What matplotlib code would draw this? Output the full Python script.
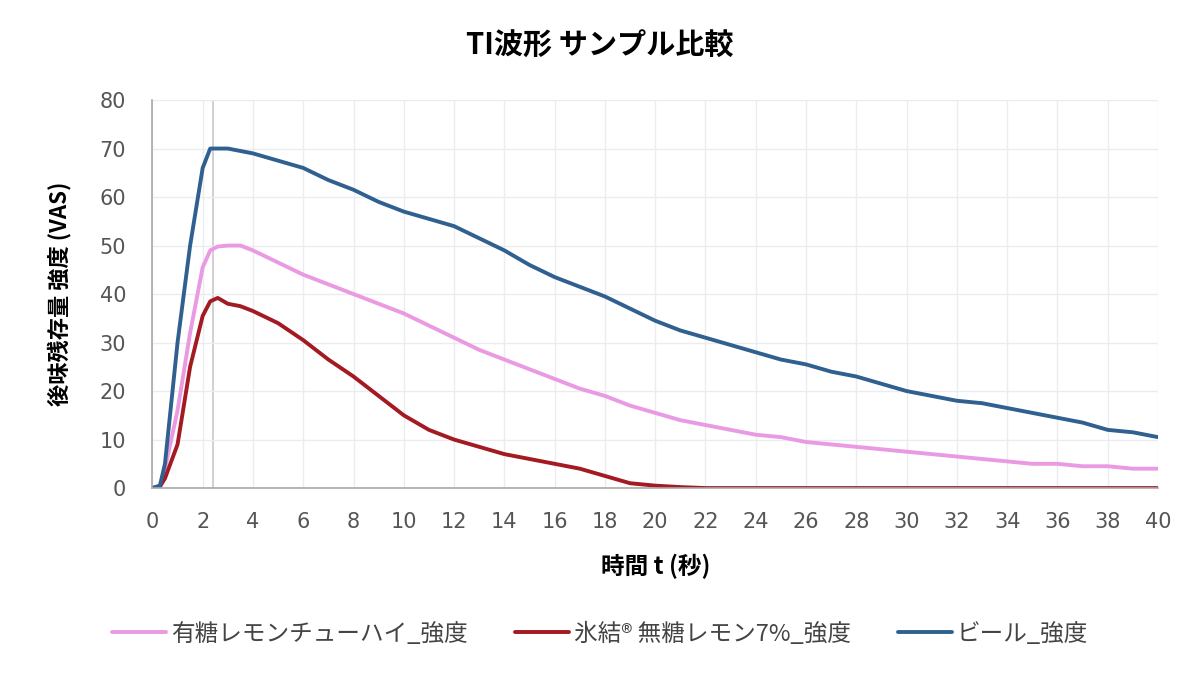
import matplotlib.pyplot as plt
import numpy as np

plt.rcParams['font.family'] = ['Noto Sans CJK JP', 'DejaVu Sans']

# time axis (s)
t = [0, 0.3, 0.5, 1, 1.5, 2, 2.3, 2.6, 3, 3.5, 4, 5, 6, 7, 8, 9, 10, 11, 12, 13, 14, 15,
     16, 17, 18, 19, 20, 21, 22, 23, 24, 25, 26, 27, 28, 29, 30, 31, 32, 33, 34,
     35, 36, 37, 38, 39, 40]

sweet_lemon = [0, 0.5, 4, 16, 32, 45.5, 49, 49.8, 50, 50, 49, 46.5, 44, 42, 40, 38, 36,
               33.5, 31, 28.5, 26.5, 24.5, 22.5, 20.5, 19, 17, 15.5, 14, 13, 12, 11,
               10.5, 9.5, 9, 8.5, 8, 7.5, 7, 6.5, 6, 5.5, 5, 5, 4.5, 4.5, 4, 4]

hyoketsu = [0, 0.3, 2, 9, 25, 35.5, 38.5, 39.2, 38, 37.5, 36.5, 34, 30.5, 26.5, 23, 19,
            15, 12, 10, 8.5, 7, 6, 5, 4, 2.5, 1, 0.5, 0.2, 0, 0, 0, 0, 0, 0, 0, 0, 0,
            0, 0, 0, 0, 0, 0, 0, 0, 0, 0]

beer = [0, 0.5, 5, 30, 50, 66, 70, 70, 70, 69.5, 69, 67.5, 66, 63.5, 61.5, 59, 57, 55.5,
        54, 51.5, 49, 46, 43.5, 41.5, 39.5, 37, 34.5, 32.5, 31, 29.5, 28, 26.5, 25.5,
        24, 23, 21.5, 20, 19, 18, 17.5, 16.5, 15.5, 14.5, 13.5, 12, 11.5, 10.5]

labels = ['有糖レモンチューハイ_強度', '氷結® 無糖レモン7%_強度', 'ビール_強度']
colors = ['#E99AE3', '#A31A22', '#2F6090']

fig = plt.figure(figsize=(12, 6.76), dpi=100)
ax = fig.add_axes([0.127, 0.278, 0.838, 0.574])

for y, lab, c in zip([sweet_lemon, hyoketsu, beer], labels, colors):
    ax.plot(t, y, color=c, linewidth=2.8, label=lab, solid_capstyle='round')

# marker line at the peak time
ax.axvline(2.4, color='#C8C8CC', linewidth=1.2, zorder=0)

ax.set_xlim(0, 40)
ax.set_ylim(0, 80)
ax.set_xticks(np.arange(0, 41, 2))
ax.set_yticks(np.arange(0, 81, 10))
ax.grid(True, color='#EBEBF2', linewidth=1.0)
ax.set_axisbelow(True)

for s in ['top', 'right']:
    ax.spines[s].set_visible(False)
for s in ['left', 'bottom']:
    ax.spines[s].set_color('#A8A8A8')
    ax.spines[s].set_linewidth(1.2)
ax.tick_params(length=0, labelsize=15, colors='#555555', labelfontfamily='DejaVu Sans')
ax.tick_params(axis='x', pad=17)
ax.tick_params(axis='y', pad=19)

ax.set_xlabel('時間 t (秒)', fontsize=17, fontweight='bold', labelpad=16)
ax.set_ylabel('後味残存量 強度 (VAS)', fontsize=16, fontweight='bold', labelpad=20)
fig.suptitle('TI波形 サンプル比較', fontsize=21, fontweight='bold', y=0.955)

fig.legend(loc='center', bbox_to_anchor=(0.5, 0.062), ncol=3, frameon=False,
           fontsize=17, handlelength=2.3, columnspacing=2.0, handletextpad=0.2,
           labelcolor='#444444')

plt.savefig('out.png', dpi=100)
